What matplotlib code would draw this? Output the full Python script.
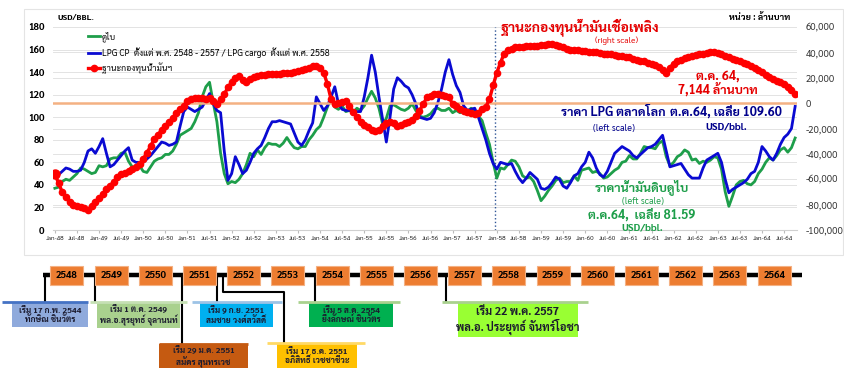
import matplotlib
matplotlib.use("Agg")
import matplotlib.pyplot as plt
import matplotlib.transforms as mtransforms
from matplotlib import font_manager
from matplotlib.patches import Rectangle
import numpy as np

# หา font ที่มีภาษาไทย
installed = set(f.name for f in font_manager.fontManager.ttflist)
thai_font = "DejaVu Sans"
for name in ["Sarabun", "Noto Sans Thai Looped", "Noto Sans Thai", "Niramit", "K2D", "Bai Jamjuree", "Anuphan"]:
    if name in installed:
        thai_font = name
        break
plt.rcParams["font.family"] = [thai_font, "DejaVu Sans"]

# ---- data (monthly, Jan-48 .. Oct-64) ----
dubai = [
    37, 38, 43, 45, 44, 47, 50, 55, 54, 52, 50, 51,            # 2548
    57, 56, 57, 63, 64, 64, 68, 69, 61, 56, 55, 57,            # 2549
    52, 51, 56, 61, 63, 64, 67, 67, 70, 76, 84, 86,            # 2550
    88, 90, 96, 104, 118, 127, 131, 113, 96, 68, 50, 41,       # 2551
    43, 42, 45, 50, 58, 68, 65, 71, 67, 73, 77, 76,            # 2552
    76, 74, 77, 82, 77, 73, 72, 74, 74, 80, 84, 89,            # 2553
    92, 100, 109, 117, 109, 107, 110, 105, 106, 104, 108, 106, # 2554
    110, 117, 123, 117, 108, 94, 99, 110, 111, 109, 107, 106,  # 2555
    108, 112, 106, 101, 100, 101, 103, 107, 108, 106, 106, 108,# 2556
    104, 106, 104, 105, 105, 108, 106, 101, 97, 86, 76, 60,    # 2557
    46, 55, 54, 58, 62, 61, 56, 48, 46, 47, 43, 35,            # 2558
    26, 30, 35, 39, 44, 46, 42, 43, 43, 48, 44, 53,            # 2559
    54, 55, 51, 52, 50, 46, 47, 50, 53, 55, 60, 61,            # 2560
    66, 63, 63, 68, 74, 73, 73, 72, 77, 79, 65, 57,            # 2561
    60, 65, 67, 71, 69, 62, 63, 59, 61, 60, 62, 65,            # 2562
    64, 54, 34, 21, 30, 40, 43, 44, 41, 40, 43, 50,            # 2563
    54, 60, 64, 62, 66, 71, 73, 69, 73, 81.59,                 # 2564
]
lpg = [
    47, 49, 52, 55, 54, 52, 52, 53, 60, 70, 72, 68,            # 2548
    74, 81, 68, 56, 58, 62, 66, 70, 73, 62, 60, 60,            # 2549
    60, 63, 66, 70, 74, 78, 77, 75, 76, 78, 92, 105,           # 2550
    109, 107, 105, 107, 109, 115, 121, 112, 106, 104, 70, 44,  # 2551
    50, 65, 58, 50, 53, 60, 68, 72, 75, 82, 90, 96,            # 2552
    96, 97, 96, 95, 94, 86, 78, 75, 80, 88, 95, 118,           # 2553
    112, 106, 110, 118, 127, 112, 107, 106, 106, 106, 105, 105,# 2554
    118, 135, 155, 140, 118, 98, 78, 100, 125, 135, 132, 128,  # 2555
    126, 120, 112, 100, 99, 98, 99, 104, 113, 125, 140, 151,   # 2556
    138, 128, 122, 110, 106, 107, 108, 100, 90, 80, 68, 59,    # 2557
    54, 60, 59, 58, 59, 52, 46, 42, 46, 51, 48, 45,            # 2558
    37, 36, 38, 42, 47, 45, 39, 37, 42, 48, 50, 56,            # 2559
    60, 69, 64, 55, 49, 47, 52, 60, 68, 71, 74, 72,            # 2560
    70, 66, 64, 67, 70, 73, 74, 76, 80, 84, 70, 56,            # 2561
    57, 58, 59, 54, 49, 46, 46, 46, 55, 62, 64, 66,            # 2562
    68, 60, 45, 33, 36, 38, 40, 42, 45, 50, 52, 60,            # 2563
    74, 70, 65, 62, 68, 76, 82, 85, 90, 109.60,                # 2564
]
fund = [
    -56000, -63000, -70000, -74000, -78000, -80000, -81000, -82000, -83000, -84000, -81000, -78000,
    -75000, -72000, -68000, -65000, -62000, -58000, -56000, -55000, -53500, -52000, -50000, -48000,
    -44000, -39000, -34000, -28000, -25000, -21000, -18000, -15000, -12000, -8000, -5000, -2000,
    1500, 3500, 4000, 4000, 4000, 3500, 3800, 2000, -800, 3000, 7000, 12500,
    16500, 20000, 21000, 18000, 16500, 19000, 20500, 21500, 22000, 22500, 23000, 23000,
    23000, 23000, 23500, 24000, 24000, 24500, 25000, 26000, 27000, 28000, 29000, 29500,
    28000, 24000, 15000, 3000, -800, 0, 1000, 1600, -2000, -7000, -11000, -15000,
    -17000, -19000, -21000, -22000, -21000, -18000, -16000, -14500, -16000, -18000, -17500, -16000,
    -15000, -13000, -10000, -6000, -1000, 4500, 6000, 7000, 7000, 6500, 5500, 5000,
    -800, -2500, -4700, -6000, -7000, -7500, -8700, -8000, -5000, -3000, 3000, 14000,
    24000, 32000, 39000, 42000, 43000, 44000, 44500, 44500, 45000, 45000, 45000, 45000,
    45500, 46000, 46500, 46500, 46000, 45000, 44000, 42500, 42000, 42000, 41500, 41000,
    41000, 40500, 40000, 40000, 39500, 39000, 39000, 38500, 38000, 37500, 37000, 36500,
    36000, 35000, 34000, 33500, 33000, 32000, 31000, 30000, 28500, 26000, 24000, 28000,
    31000, 33000, 34000, 35500, 36500, 37500, 38000, 38500, 39000, 39500, 40000, 40000,
    39500, 38500, 37000, 36000, 35000, 34000, 33000, 32000, 30500, 29000, 28000, 26500,
    24500, 22000, 20500, 19000, 17500, 16500, 15000, 13000, 10500, 7144,
]
first_year = 48
months = np.arange(len(fund))
tick_pos = list(range(0, len(fund), 6))
tick_labels = [("Jan" if p % 12 == 0 else "Jul") + "-" + str(first_year + p // 12) for p in tick_pos]
left_ticks = list(range(0, 181, 20))
right_ticks = list(range(-100000, 60001, 20000))

legend_labels = ["ดูไบ",
                 "LPG CP  ตั้งแต่ พ.ศ. 2548 - 2557 / LPG cargo  ตั้งแต่ พ.ศ. 2558",
                 "ฐานะกองทุนน้ำมันฯ"]

# timeline
timeline_years = [str(y) for y in range(2548, 2565)]
pm_text = ["เริ่ม 17 ก.พ. 2544\nทักษิณ ชินวัตร",
           "เริ่ม 1 ต.ค. 2549\nพล.อ.สุรยุทธ์ จุลานนท์",
           "เริ่ม 29 ม.ค. 2551\nสมัคร สุนทรเวช",
           "เริ่ม 9 ก.ย. 2551\nสมชาย วงศ์สวัสดิ์",
           "เริ่ม 17 ธ.ค. 2551\nอภิสิทธิ์ เวชชาชีวะ",
           "เริ่ม 5 ส.ค. 2554\nยิ่งลักษณ์ ชินวัตร",
           "เริ่ม 22 พ.ค. 2557\nพล.อ. ประยุทธ์ จันทร์โอชา"]
pm_fill = ["#8FAADC", "#A9D18E", "#C55A11", "#00B0F0", "#FFC000", "#00B050", "#99FF33"]
pm_edge = ["#4472C4", "#C5E0B4", "#C55A11", "#9DC3E6", "#FFD966", "#A9D18E", "#A9D18E"]

# ---- layout (pixels) ----
W, H = 845, 379
box_x = [(12, 88), (97, 180), (159, 248), (200, 273), (277, 357), (309, 393), (458, 578)]
bar_x = [(2, 88), (90, 187), (159, 248), (192, 282), (267, 365), (298, 400), (442, 588)]
box_y = [(302, 327), (302, 328), (344, 368), (302, 327), (343, 368), (302, 327), (302, 337)]
pm_fs = [6, 6, 6, 6, 6, 6, 8]
connectors = [[(45, 275), (45, 302)],
              [(95, 275), (95, 302)],
              [(182, 275), (182, 344)],
              [(217, 275), (217, 302)],
              [(223, 275), (223, 292), (284, 292), (284, 343)],
              [(315, 275), (315, 302)],
              [(446, 275), (446, 302)]]

fig = plt.figure(figsize=(W / 100, H / 100), dpi=100)

lay = fig.add_axes([0, 0, 1, 1])
lay.set_xlim(0, W)
lay.set_ylim(H, 0)
lay.axis("off")
lay.add_patch(Rectangle((24, 9), 819, 246, fill=False, ec="#e4e4e4", lw=0.8))

# timeline
lay.plot([43, 802], [275, 275], color="black", lw=3.2, solid_capstyle="butt", zorder=2)
for pts in connectors:
    xs, ys = zip(*pts)
    lay.plot(xs, ys, color="black", lw=1.5, zorder=1)
for i, yr in enumerate(timeline_years):
    cx = 67 + 44.2 * i
    lay.add_patch(Rectangle((cx - 16.5, 265.5), 33, 19, fc="#ED7D31", ec="#F4B183", lw=0.8, zorder=3))
    lay.text(cx, 275, yr, ha="center", va="center", fontsize=7, fontweight="bold", zorder=4)
for i in range(len(pm_text)):
    x0, x1 = box_x[i]
    y0, y1 = box_y[i]
    lay.add_patch(Rectangle((x0, y0), x1 - x0, y1 - y0, fc=pm_fill[i], ec="none", zorder=3))
    lay.plot(bar_x[i], [y0, y0], color=pm_edge[i], lw=2, solid_capstyle="butt", zorder=4)
    lay.text((x0 + x1) / 2, (y0 + y1) / 2 + 1, pm_text[i], ha="center", va="center",
             fontsize=pm_fs[i], fontweight="bold", color="#1b1b2f", linespacing=1.05, zorder=5)

# ---- main chart ----
ax = fig.add_axes([53 / W, 1 - 230 / H, 744 / W, 203 / H])
ax2 = ax.twinx()
ax.patch.set_visible(False)
ax2.patch.set_visible(False)

ax.set_xlim(-0.5, len(fund) - 0.5)
ax.set_ylim(0, 180)
ax2.set_ylim(-100000, 60000)

# gridlines for both scales, below the data
for v in left_ticks[1:]:
    ax.axhline(v, color="#e3e3e3", lw=0.7, zorder=0)
blend = mtransforms.blended_transform_factory(ax.transAxes, ax2.transData)
for v in right_ticks:
    ax.plot([0, 1], [v, v], transform=blend, color="#e3e3e3", lw=0.7, zorder=0)

l1, = ax.plot(months, dubai, color="#1E9E4A", lw=2, zorder=2)
l2, = ax.plot(months, lpg, color="#0A0AD2", lw=2, zorder=3)
ax.axvline(119.5, color="#2F5597", ls=":", lw=1, zorder=1)

ax2.axhline(0, color="#F4B183", lw=1.8, zorder=1)
l3, = ax2.plot(months, fund, color="#FF0000", lw=2.4, marker="o", ms=4.5, mec="#FF0000", zorder=3)
ax2.plot(months[:1], fund[:1], "o", color="#FF0000", ms=6.5, zorder=4)

ax.set_yticks(left_ticks)
ax.set_yticklabels([str(v) for v in left_ticks], fontsize=7, fontweight="bold")
ax2.set_yticks(right_ticks)
ax2.set_yticklabels([f"{v:,}" for v in right_ticks], fontsize=7, color="#333333")
ax.set_xticks(tick_pos)
ax.set_xticklabels(tick_labels, fontsize=4.6, color="#222222")
ax.tick_params(axis="x", length=2, color="#bbbbbb", pad=2)
ax.tick_params(axis="y", length=0, pad=6)
ax2.tick_params(axis="y", length=0, pad=6)
for a in (ax, ax2):
    for s in a.spines.values():
        s.set_visible(False)
ax.spines["bottom"].set_visible(True)
ax.spines["bottom"].set_color("#d0d0d0")

ax2.legend([l1, l2, l3], legend_labels, loc="upper left", bbox_to_anchor=(85 / W, 1 - 28 / H),
           bbox_transform=fig.transFigure, frameon=False, fontsize=6.3, handlelength=1.3,
           handletextpad=0.2, labelspacing=0.55, borderaxespad=0)


def px(x, y):
    return x / W, 1 - y / H


fig.text(*px(57, 18), "USD/BBL.", fontsize=6, fontweight="bold", va="center")
fig.text(*px(760, 18), "หน่วย : ล้านบาท", fontsize=6.5, fontweight="bold", va="center", ha="center")

red = "#E50000"
navy = "#00008B"
grn = "#1E9E4A"
fig.text(*px(580, 27), "ฐานะกองทุนน้ำมันเชื้อเพลิง", fontsize=10, fontweight="bold", color=red, ha="center", va="center")
fig.text(*px(617, 41), "(right scale)", fontsize=6, color=red, ha="center", va="center")
fig.text(*px(718, 76), "ต.ค. 64,", fontsize=9, fontweight="bold", color=red, ha="center", va="center")
fig.text(*px(718, 89), "7,144 ล้านบาท", fontsize=9, fontweight="bold", color=red, ha="center", va="center")

fig.text(*px(613, 113), "ราคา LPG ตลาดโลก", fontsize=9, fontweight="bold", color=navy, ha="center", va="center")
fig.text(*px(614, 128), "(left scale)", fontsize=6.5, color=navy, ha="center", va="center")
fig.text(*px(726, 113), "ต.ค.64, เฉลี่ย 109.60", fontsize=9, fontweight="bold", color=navy, ha="center", va="center")
fig.text(*px(726, 127), "USD/bbl.", fontsize=7.5, fontweight="bold", color=navy, ha="center", va="center")

fig.text(*px(642, 187), "ราคาน้ำมันดิบดูไบ", fontsize=9, fontweight="bold", color=grn, ha="center", va="center")
fig.text(*px(643, 201), "(left scale)", fontsize=6.5, color=grn, ha="center", va="center")
fig.text(*px(642, 216), "ต.ค.64,  เฉลี่ย 81.59", fontsize=9, fontweight="bold", color=grn, ha="center", va="center")
fig.text(*px(642, 228), "USD/bbl.", fontsize=7.5, fontweight="bold", color=grn, ha="center", va="center")

fig.savefig("out.png", dpi=100)
